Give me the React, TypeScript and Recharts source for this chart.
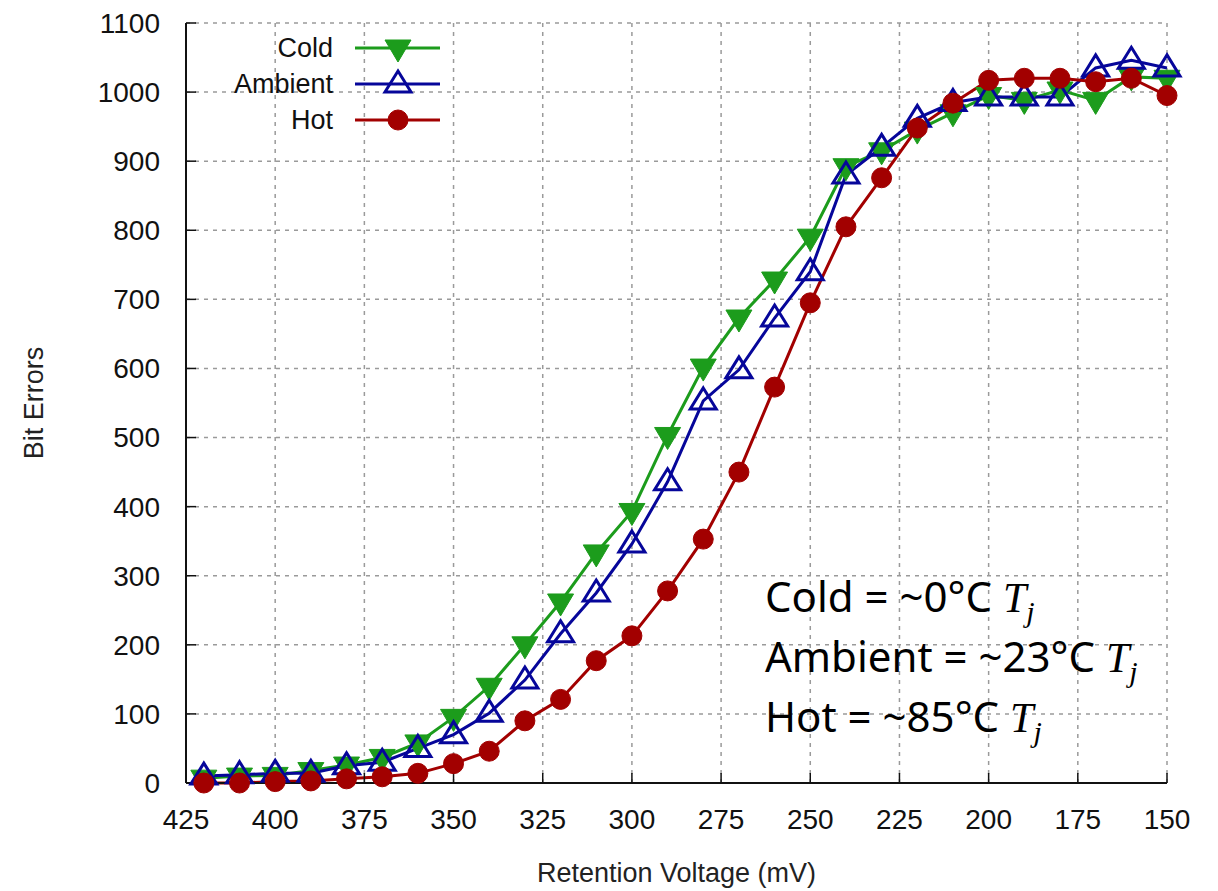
import React from "react";
import {
  CartesianGrid,
  Legend,
  Line,
  LineChart,
  XAxis,
  YAxis,
} from "recharts";

const voltages = [
  420, 410, 400, 390, 380, 370, 360, 350, 340, 330, 320, 310, 300, 290, 280,
  270, 260, 250, 240, 230, 220, 210, 200, 190, 180, 170, 160, 150,
];
const cold = [
  7, 10, 11, 18, 26, 37, 58, 95, 140, 200, 262, 333, 393, 503, 602, 673, 728,
  790, 892, 915, 945, 970, 995, 988, 1003, 988, 1022, 1020,
];
const ambient = [
  10, 12, 14, 14, 25, 30, 50, 70, 101, 149, 216, 275, 346, 436, 553, 598, 673,
  740, 880, 920, 962, 985, 993, 993, 993, 1035, 1046, 1035,
];
const hot = [
  0, 0, 2, 3, 6, 9, 14, 28, 46, 90, 121, 177, 213, 278, 353, 450, 573, 695, 805,
  876, 948, 984, 1017, 1020, 1020, 1015, 1020, 995,
];
const xTicks = [425, 400, 375, 350, 325, 300, 275, 250, 225, 200, 175, 150];
const yTicks = [0, 100, 200, 300, 400, 500, 600, 700, 800, 900, 1000, 1100];
const notes = [
  { label: "Cold = ~0°C", name: "cold" },
  { label: "Ambient = ~23°C", name: "ambient" },
  { label: "Hot = ~85°C", name: "hot" },
];

const data = voltages.map((v, i) => ({
  v,
  cold: cold[i],
  ambient: ambient[i],
  hot: hot[i],
}));

const GREEN = "#1c9c1c";
const BLUE = "#06069a";
const RED = "#a20000";
const FONT = "'Liberation Sans', Arial, sans-serif";
const FS = 28;

const DownTri = ({ cx, cy }: any) =>
  cx == null || cy == null ? null : (
    <polygon
      points={`${cx - 13},${cy - 8} ${cx + 13},${cy - 8} ${cx},${cy + 14}`}
      fill={GREEN}
      stroke={GREEN}
      strokeWidth={1}
    />
  );

const UpTri = ({ cx, cy }: any) =>
  cx == null || cy == null ? null : (
    <polygon
      points={`${cx},${cy - 13} ${cx + 13},${cy + 8} ${cx - 13},${cy + 8}`}
      fill="none"
      stroke={BLUE}
      strokeWidth={3}
    />
  );

const Dot = ({ cx, cy }: any) =>
  cx == null || cy == null ? null : (
    <circle cx={cx} cy={cy} r={10} fill={RED} stroke={RED} />
  );

const legendItems = [
  { name: "Cold", color: GREEN, Marker: DownTri },
  { name: "Ambient", color: BLUE, Marker: UpTri },
  { name: "Hot", color: RED, Marker: Dot },
];

const renderLegend = () => (
  <div style={{ fontFamily: FONT, fontSize: 27, color: "#111" }}>
    {legendItems.map(({ name, color, Marker }) => (
      <div
        key={name}
        style={{ display: "flex", alignItems: "center", height: 36 }}
      >
        <span style={{ width: 325, textAlign: "right", lineHeight: "36px" }}>
          {name}
        </span>
        <svg width={120} height={36}>
          <line x1={22} x2={107} y1={18} y2={18} stroke={color} strokeWidth={3} />
          <Marker cx={65} cy={18} />
        </svg>
      </div>
    ))}
  </div>
);

export default function App() {
  return (
    <div style={{ position: "relative", width: 1210, height: 883 }}>
      <LineChart
        width={1210}
        height={883}
        data={data}
        margin={{ top: 15, right: 51, left: 0, bottom: 0 }}
      >
        <CartesianGrid
          stroke="#9a9a9a"
          strokeDasharray="4 5"
          strokeWidth={1.5}
        />
        <XAxis
          dataKey="v"
          type="number"
          domain={[150, 425]}
          reversed
          ticks={xTicks}
          interval={0}
          height={108}
          tickSize={-10}
          tickMargin={36}
          axisLine={{ stroke: "#111", strokeWidth: 2 }}
          tickLine={{ stroke: "#111", strokeWidth: 1.5 }}
          tick={{ fill: "#111", fontSize: FS, fontFamily: FONT }}
          label={{
            value: "Retention Voltage (mV)",
            position: "insideBottom",
            offset: 9,
            fill: "#222",
            fontSize: 27,
            fontFamily: FONT,
          }}
        />
        <XAxis
          xAxisId="top"
          orientation="top"
          dataKey="v"
          type="number"
          domain={[150, 425]}
          reversed
          ticks={xTicks}
          height={0}
          tickSize={-10}
          tick={false}
          axisLine={{ stroke: "#111", strokeWidth: 2 }}
          tickLine={{ stroke: "#111", strokeWidth: 1.5 }}
        />
        <YAxis
          type="number"
          domain={[0, 1100]}
          ticks={yTicks}
          interval={0}
          width={178}
          tickSize={-10}
          tickMargin={36}
          axisLine={{ stroke: "#111", strokeWidth: 2 }}
          tickLine={{ stroke: "#111", strokeWidth: 1.5 }}
          tick={{ fill: "#111", fontSize: FS, fontFamily: FONT }}
          label={{
            value: "Bit Errors",
            angle: -90,
            position: "center",
            dx: -64,
            fill: "#222",
            fontSize: 27,
            fontFamily: FONT,
          }}
        />
        <YAxis
          yAxisId="right"
          orientation="right"
          type="number"
          domain={[0, 1100]}
          ticks={yTicks}
          width={0}
          tickSize={-10}
          tick={false}
          axisLine={{ stroke: "#111", strokeWidth: 2 }}
          tickLine={{ stroke: "#111", strokeWidth: 1.5 }}
        />
        <Legend
          layout="horizontal"
          verticalAlign="middle"
          align="center"
          content={renderLegend}
          wrapperStyle={{ left: 0, top: 22, width: 460 }}
        />
        <Line
          dataKey="cold"
          name="Cold"
          stroke={GREEN}
          strokeWidth={3}
          dot={<DownTri />}
          isAnimationActive={false}
        />
        <Line
          dataKey="ambient"
          name="Ambient"
          stroke={BLUE}
          strokeWidth={3}
          dot={<UpTri />}
          isAnimationActive={false}
        />
        <Line
          dataKey="hot"
          name="Hot"
          stroke={RED}
          strokeWidth={3}
          dot={<Dot />}
          isAnimationActive={false}
        />
      </LineChart>
      <div
        style={{
          position: "absolute",
          left: 757,
          top: 558,
          fontFamily: "'Noto Sans', 'Open Sans', sans-serif",
          fontSize: 42,
          color: "#000",
          whiteSpace: "nowrap",
        }}
      >
        {notes.map((n) => (
          <div key={n.name} style={{ height: 60, lineHeight: "60px" }}>
            {n.label}{" "}
            <i style={{ fontFamily: "'Liberation Serif', serif" }}>
              T
              <span style={{ fontSize: 30, position: "relative", top: 10 }}>
                j
              </span>
            </i>
          </div>
        ))}
      </div>
    </div>
  );
}
